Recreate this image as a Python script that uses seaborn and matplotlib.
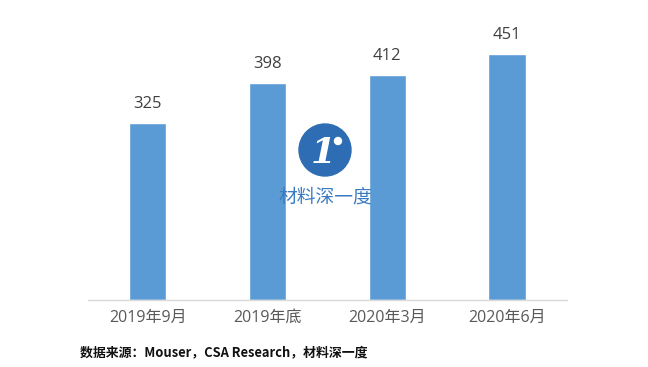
import matplotlib
matplotlib.use("Agg")
import matplotlib.pyplot as plt
import matplotlib.patches as mpatches
import seaborn as sns
import pandas as pd

# Data
periods = ["2019年9月", "2019年底", "2020年3月", "2020年6月"]
values = [325, 398, 412, 451]
source_text = "数据来源：Mouser，CSA Research，材料深一度"
watermark = "材料深一度"

df = pd.DataFrame({"period": periods, "value": values})

sns.set_style("white")
plt.rcParams["font.family"] = ["Open Sans", "Noto Sans CJK SC", "DejaVu Sans"]

fig = plt.figure(figsize=(6.48, 3.67), dpi=100)
ax = fig.add_axes([0.1358, 0.1826, 0.739, 0.7425])

sns.barplot(data=df, x="period", y="value", color="#5B9BD5", saturation=1,
            width=0.31, ax=ax)

ax.set_ylim(0, 500)
ax.set_xlim(-0.5, len(periods) - 0.5)
ax.set_xlabel("")
ax.set_ylabel("")
ax.set_yticks([])
for s in ["top", "right", "left"]:
    ax.spines[s].set_visible(False)
ax.spines["bottom"].set_color("#D9D9D9")
ax.spines["bottom"].set_linewidth(1.0)
ax.tick_params(axis="x", length=0, pad=7, labelsize=11.5, labelcolor="#595959")

for i, v in enumerate(values):
    ax.annotate(str(v), (i, v), xytext=(0, 8), textcoords="offset points",
                ha="center", va="bottom", fontsize=12, color="#404040")

# watermark logo
circ = mpatches.Ellipse((325 / 648, 1 - 150 / 367), 52 / 648, 52 / 367,
                        transform=fig.transFigure, color="#2E6DB4", zorder=5)
fig.add_artist(circ)
fig.text(323 / 648, 1 - 153 / 367, "1", transform=fig.transFigure, ha="center",
         va="center", fontsize=26, color="white", fontweight="bold",
         fontstyle="italic", family="DejaVu Serif", zorder=6)
dot = mpatches.Ellipse((338 / 648, 1 - 141 / 367), 7 / 648, 7 / 367,
                       transform=fig.transFigure, color="white", zorder=7)
fig.add_artist(dot)
fig.text(325 / 648, 1 - 197 / 367, watermark, ha="center", va="center",
         fontsize=13.5, color="#3A7BC0", family=["Noto Sans CJK SC"], zorder=6)

fig.text(80 / 648, 1 - 352 / 367, source_text, ha="left", va="center",
         fontsize=9.3, fontweight="bold", color="#111111",
         family=["Noto Sans CJK SC", "DejaVu Sans"])

fig.savefig("out.png", dpi=100)
